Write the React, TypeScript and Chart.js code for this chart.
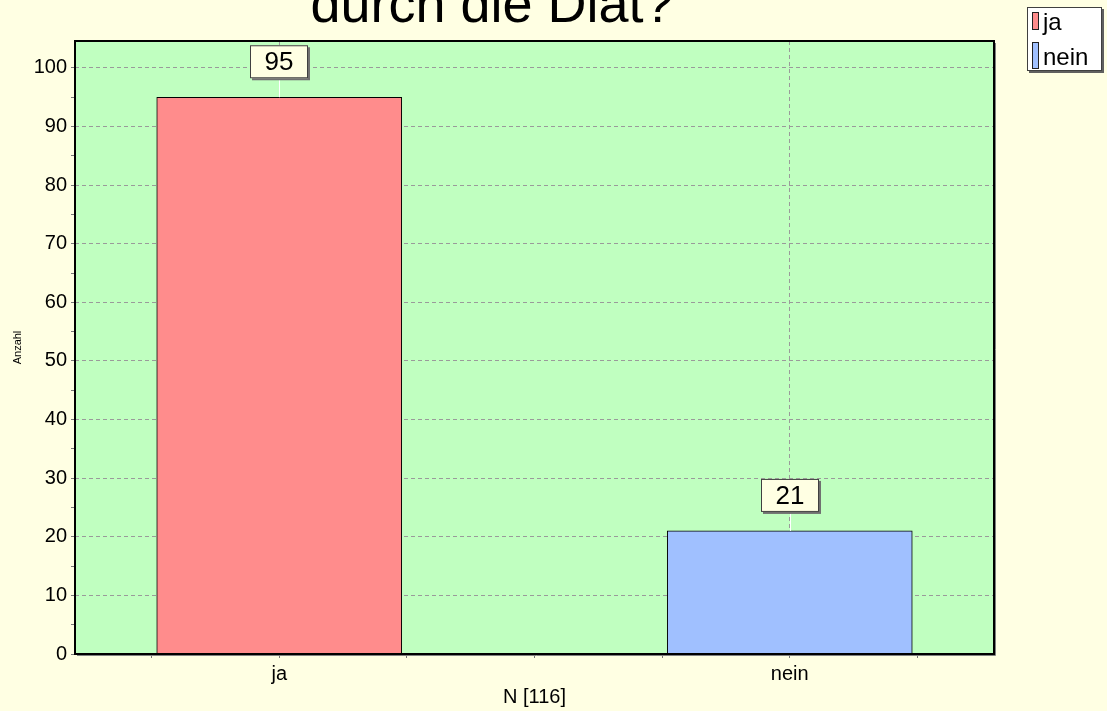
import React, { useEffect, useRef } from "react";
import { Chart, registerables } from "chart.js";

Chart.register(...registerables);

const categories = ["ja", "nein"];
const counts = [95, 21];
const barColors = ["#FF8C8C", "#A0C0FF"];
const yLabelValues = [0, 10, 20, 30, 40, 50, 60, 70, 80, 90, 100];
const titleText = "durch die Diät?";
const xAxisTitle = "N [116]";
const yAxisTitle = "Anzahl";

const FONT = '"Liberation Sans", Arial, sans-serif';
const PAGE_BG = "#FFFFE3";
const PLOT_BG = "#C0FFC0";
const GRID = "#9A9A9A";

const backgroundPlugin = {
  id: "bgPlugin",
  beforeDraw(chart: any) {
    const { ctx, chartArea: a } = chart;
    ctx.save();
    ctx.fillStyle = PAGE_BG;
    ctx.fillRect(0, 0, chart.width, chart.height);
    ctx.fillStyle = PLOT_BG;
    ctx.fillRect(a.left, a.top, a.right - a.left, a.bottom - a.top);
    ctx.restore();
  },
};

const overlayPlugin = {
  id: "overlayPlugin",
  afterDatasetsDraw(chart: any) {
    const { ctx, chartArea: a } = chart;
    ctx.save();
    // frame shadow
    ctx.strokeStyle = "#808080";
    ctx.lineWidth = 1;
    ctx.beginPath();
    ctx.moveTo(a.right + 1.5, a.top + 2);
    ctx.lineTo(a.right + 1.5, a.bottom + 1.5);
    ctx.lineTo(a.left + 2, a.bottom + 1.5);
    ctx.stroke();
    // frame
    ctx.strokeStyle = "#000";
    ctx.lineWidth = 2;
    ctx.strokeRect(a.left, a.top, a.right - a.left, a.bottom - a.top);

    // value labels
    chart.data.datasets.forEach((ds: any, di: number) => {
      const meta = chart.getDatasetMeta(di);
      meta.data.forEach((el: any, i: number) => {
        const v = ds.data[i].y;
        const x = Math.round(el.x);
        const top = el.y;
        const bw = 58;
        const bh = 33;
        const boxBottom = top - 19;
        const bx = x - bw / 2;
        const by = boxBottom - bh;
        ctx.strokeStyle = "#FFFFFF";
        ctx.lineWidth = 1;
        ctx.beginPath();
        ctx.moveTo(x + 0.5, boxBottom);
        ctx.lineTo(x + 0.5, top);
        ctx.stroke();
        ctx.fillStyle = "#707070";
        ctx.fillRect(bx + 2, by + 2, bw, bh);
        ctx.fillStyle = "#FFFFE3";
        ctx.fillRect(bx, by, bw, bh);
        ctx.strokeStyle = "#404040";
        ctx.strokeRect(bx + 0.5, by + 0.5, bw - 1, bh - 1);
        ctx.fillStyle = "#000";
        ctx.font = `26px ${FONT}`;
        ctx.textAlign = "center";
        ctx.textBaseline = "middle";
        ctx.fillText(String(v), x, by + bh / 2 + 1);
      });
    });
    ctx.restore();
  },
  afterDraw(chart: any) {
    const { ctx } = chart;
    ctx.save();
    // title (cut at top as in reference)
    ctx.fillStyle = "#000";
    ctx.font = `54px ${FONT}`;
    ctx.textAlign = "center";
    ctx.textBaseline = "alphabetic";
    ctx.fillText(titleText, 492, 22);

    // legend
    const lx = 1027, ly = 7, lw = 75, lh = 64;
    ctx.fillStyle = "#606060";
    ctx.fillRect(lx + 2, ly + 2, lw, lh);
    ctx.fillStyle = "#FFFFFF";
    ctx.fillRect(lx, ly, lw, lh);
    ctx.strokeStyle = "#404040";
    ctx.lineWidth = 1;
    ctx.strokeRect(lx + 0.5, ly + 0.5, lw - 1, lh - 1);
    const rows = [
      { top: 12, h: 18, base: 30 },
      { top: 42, h: 27, base: 65 },
    ];
    chart.data.datasets.forEach((ds: any, i: number) => {
      const r = rows[i];
      ctx.fillStyle = ds.backgroundColor;
      ctx.fillRect(1032, r.top, 7, r.h);
      ctx.strokeStyle = "#202020";
      ctx.strokeRect(1032.5, r.top + 0.5, 6, r.h - 1);
      ctx.fillStyle = "#000";
      ctx.font = `24px ${FONT}`;
      ctx.textAlign = "left";
      ctx.textBaseline = "alphabetic";
      ctx.fillText(ds.label, 1043, r.base);
    });
    ctx.restore();
  },
};

export default function App() {
  const ref = useRef<HTMLCanvasElement>(null);
  useEffect(() => {
    document.body.style.margin = "0";
    if (!ref.current) return;
    const datasets = categories.map((c, i) => ({
      label: c,
      data: [{ x: i, y: counts[i] }],
      backgroundColor: barColors[i],
      borderColor: "#000",
      borderWidth: 1,
      borderSkipped: "start" as const,
      barThickness: 245,
      grouped: false,
    }));
    const chart = new Chart(ref.current, {
      type: "bar",
      data: { datasets },
      options: {
        animation: false,
        responsive: false,
        layout: { padding: { top: 41, right: 113, left: 0, bottom: 0 } },
        plugins: {
          legend: { display: false },
          title: { display: false },
          tooltip: { enabled: false },
        },
        scales: {
          x: {
            type: "linear",
            offset: false,
            min: -0.4,
            max: 1.4,
            afterBuildTicks(scale: any) {
              const t: any[] = [];
              for (let v = -0.25; v <= 1.25 + 1e-9; v += 0.25) t.push({ value: Math.round(v * 100) / 100 });
              scale.ticks = t;
            },
            afterFit(scale: any) {
              scale.height = 57;
            },
            ticks: {
              autoSkip: false,
              maxRotation: 0,
              padding: 4,
              color: "#000",
              font: { family: FONT, size: 20 },
              callback: (v: any) => (Number.isInteger(v) && categories[v] !== undefined ? categories[v] : ""),
            },
            grid: {
              offset: false,
              color: (ctx: any) => (ctx.tick && Number.isInteger(ctx.tick.value) ? GRID : "transparent"),
              tickColor: "#777",
              tickLength: 4,
              lineWidth: 1,
            },
            border: { display: false, dash: [4, 3] },
            title: {
              display: true,
              text: xAxisTitle,
              color: "#000",
              font: { family: FONT, size: 20 },
              padding: { top: 0, bottom: 2 },
            },
          },
          y: {
            type: "linear",
            min: 0,
            max: 104.6,
            afterBuildTicks(scale: any) {
              const t: any[] = [];
              yLabelValues.forEach((v, i) => {
                t.push({ value: v });
                if (i < yLabelValues.length - 1) t.push({ value: (v + yLabelValues[i + 1]) / 2 });
              });
              scale.ticks = t;
            },
            afterFit(scale: any) {
              scale.width = 75;
            },
            ticks: {
              autoSkip: false,
              padding: 4,
              color: "#000",
              font: { family: FONT, size: 20 },
              callback: (v: any) => (yLabelValues.includes(v) ? String(v) : ""),
            },
            grid: {
              color: (ctx: any) =>
                ctx.tick && ctx.tick.value > 0 && yLabelValues.includes(ctx.tick.value) ? GRID : "transparent",
              tickColor: "#777",
              tickLength: 4,
              lineWidth: 1,
            },
            border: { display: false, dash: [4, 3] },
            title: {
              display: true,
              text: yAxisTitle,
              color: "#000",
              font: { family: FONT, size: 11 },
              padding: { top: 11, bottom: 0 },
            },
          },
        },
      },
      plugins: [backgroundPlugin, overlayPlugin],
    });
    return () => chart.destroy();
  }, []);
  return (
    <div style={{ position: "fixed", left: 0, top: 0, width: 1107, height: 711 }}>
      <canvas ref={ref} width={1107} height={711} style={{ display: "block" }} />
    </div>
  );
}
